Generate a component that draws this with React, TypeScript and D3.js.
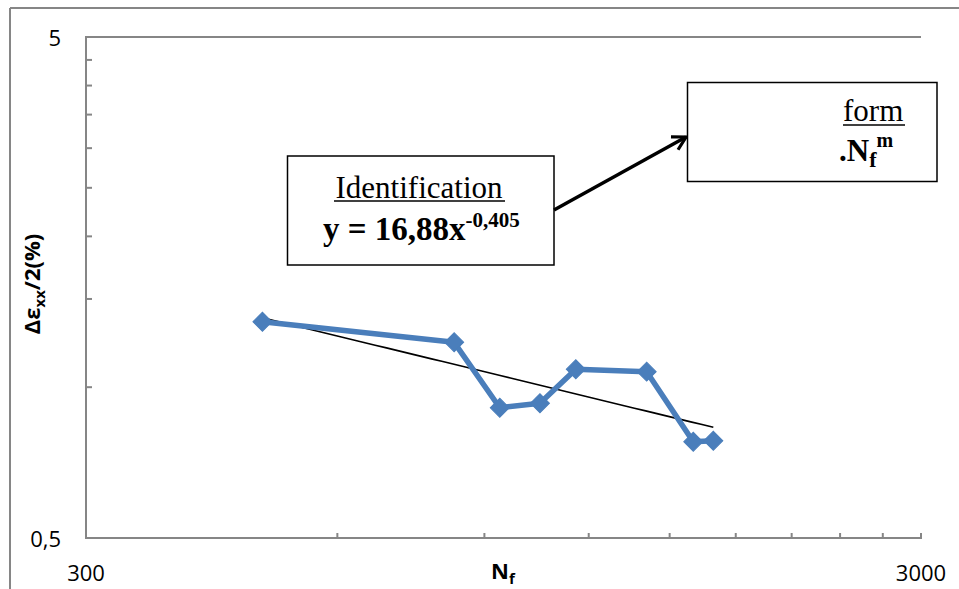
import React from "react";
import * as d3 from "d3";

// ---- data ----
const cycles: number[] = [488, 828, 939, 1049, 1158, 1408, 1601, 1692];
const strainAmp: number[] = [1.351, 1.229, 0.910, 0.929, 1.086, 1.074, 0.778, 0.782];
const xDomain: number[] = [300, 3000];
const yDomain: number[] = [0.5, 5];
const xMinorTicks: number[] = [600, 900, 1200, 1500, 1800, 2100, 2400, 2700];
const yMinorTicks: number[] = [1, 1.5, 2, 2.5, 3, 3.5, 4, 4.5];
const xTickLabels: string[] = ["300", "3000"];
const yTickLabels: string[] = ["0,5", "5"];
const fitCoef = 16.88;
const fitExp = -0.405;

const W = 959;
const H = 589;
const L = 86, R = 921, T = 37, B = 538;
const AXIS = "#868686";
const BLUE = "#4A7EBB";

export default function App() {
  const x = d3.scaleLog().domain(xDomain).range([L, R]);
  const y = d3.scaleLog().domain(yDomain).range([B, T]);

  const pts = cycles.map((c, i) => [x(c), y(strainAmp[i])] as [number, number]);
  const line = d3.line();
  const xs0 = cycles[0], xs1 = cycles[cycles.length - 1];
  const fitPts: [number, number][] = d3.range(0, 41).map((k) => {
    const xv = xs0 * Math.pow(xs1 / xs0, k / 40);
    return [x(xv), y(fitCoef * Math.pow(xv, fitExp))];
  });
  const diamond = d3.symbol(d3.symbolSquare, 180)() as string;

  const serif = "'Liberation Serif', 'Times New Roman', serif";
  const sans = "'Open Sans', 'Liberation Sans', Arial, sans-serif";

  return (
    <svg width={W} height={H} style={{ position: "absolute", left: 0, top: 0 }}>
      <defs>
        <marker id="arr" viewBox="0 0 12 12" refX="10" refY="6" markerWidth="5" markerHeight="5" orient="auto" markerUnits="strokeWidth">
          <path d="M1,1 L10,6 L1,11" fill="none" stroke="#000" strokeWidth={2.2} strokeLinejoin="miter" />
        </marker>
        <clipPath id="box2clip">
          <rect x={688} y={83} width={248} height={98} />
        </clipPath>
      </defs>
      <rect x={0} y={0} width={W} height={H} fill="#fff" />
      {/* outer chart border */}
      <line x1={10} y1={8} x2={10} y2={H + 5} stroke={AXIS} strokeWidth={2} />
      <line x1={10} y1={8} x2={W + 5} y2={8} stroke={AXIS} strokeWidth={2} />

      {/* plot frame */}
      <line x1={L} y1={T} x2={R} y2={T} stroke={AXIS} strokeWidth={2} />
      <line x1={L} y1={T - 1} x2={L} y2={B + 1} stroke={AXIS} strokeWidth={2} />
      <line x1={L - 1} y1={B} x2={R + 1} y2={B} stroke={AXIS} strokeWidth={2} />
      {yMinorTicks.map((v) => (
        <line key={"yt" + v} x1={L} x2={L + 6} y1={y(v)} y2={y(v)} stroke={AXIS} strokeWidth={2} />
      ))}
      {xMinorTicks.concat([xDomain[0], xDomain[1]]).map((v) => (
        <line key={"xt" + v} x1={x(v)} x2={x(v)} y1={B} y2={B - 5} stroke={AXIS} strokeWidth={2} />
      ))}

      {/* tick labels */}
      {yDomain.map((v, i) => (
        <text key={"yl" + v} x={61} y={y(v) + 9} textAnchor="end" fontFamily={sans} fontSize={22} fill="#000">
          {yTickLabels[i]}
        </text>
      ))}
      {xDomain.map((v, i) => (
        <text key={"xl" + v} x={x(v)} y={581} textAnchor="middle" fontFamily={sans} fontSize={22} fill="#000">
          {xTickLabels[i]}
        </text>
      ))}

      {/* axis titles */}
      <text x={491} y={579} fontFamily={sans} fontSize={22} fontWeight="bold" fill="#000">
        N<tspan fontSize={15} dy={5}>f</tspan>
      </text>
      <text transform="translate(40,284) rotate(-90)" textAnchor="middle" fontFamily={sans} fontSize={22} fontWeight="bold" fill="#000">
        Δε<tspan fontSize={15} dy={5}>xx</tspan><tspan dy={-5}>/2(%)</tspan>
      </text>

      {/* trend line */}
      <path d={line(fitPts) as string} fill="none" stroke="#000" strokeWidth={1.6} />

      {/* series */}
      <path d={line(pts) as string} fill="none" stroke={BLUE} strokeWidth={5.5} strokeLinejoin="round" />
      {pts.map((p, i) => (
        <path key={"m" + i} d={diamond} transform={`translate(${p[0]},${p[1]}) rotate(45)`} fill={BLUE} stroke={BLUE} strokeWidth={1} />
      ))}

      {/* annotation box 1 */}
      <rect x={287.5} y={156} width={266.5} height={109} fill="#fff" stroke="#000" strokeWidth={1.5} />
      <text x={419} y={198} textAnchor="middle" fontFamily={serif} fontSize={31} fill="#000">
        Identification
      </text>
      <line x1={334} x2={505} y1={201} y2={201} stroke="#000" strokeWidth={1.5} />
      <text x={323} y={240} fontFamily={serif} fontSize={33} fontWeight="bold" fill="#000">
        y = 16,88x<tspan fontSize={21} dy={-13}>-0,405</tspan>
      </text>

      {/* arrow */}
      <line x1={554} y1={210} x2={686} y2={137} stroke="#000" strokeWidth={3.5} markerEnd="url(#arr)" />

      {/* annotation box 2 */}
      <rect x={687.5} y={82.5} width={249.5} height={99} fill="#fff" stroke="#000" strokeWidth={1.5} />
      <g clipPath="url(#box2clip)">
        <text x={843} y={121} fontFamily={serif} fontSize={31} fill="#000">
          form
        </text>
        <line x1={843} x2={905} y1={125} y2={125} stroke="#000" strokeWidth={1.5} />
        <text x={839} y={161} fontFamily={serif} fontSize={31} fontWeight="bold" fill="#000">
          .N<tspan fontSize={22} dy={6}>f</tspan><tspan fontSize={20} dy={-20}>m</tspan>
        </text>
      </g>
    </svg>
  );
}
